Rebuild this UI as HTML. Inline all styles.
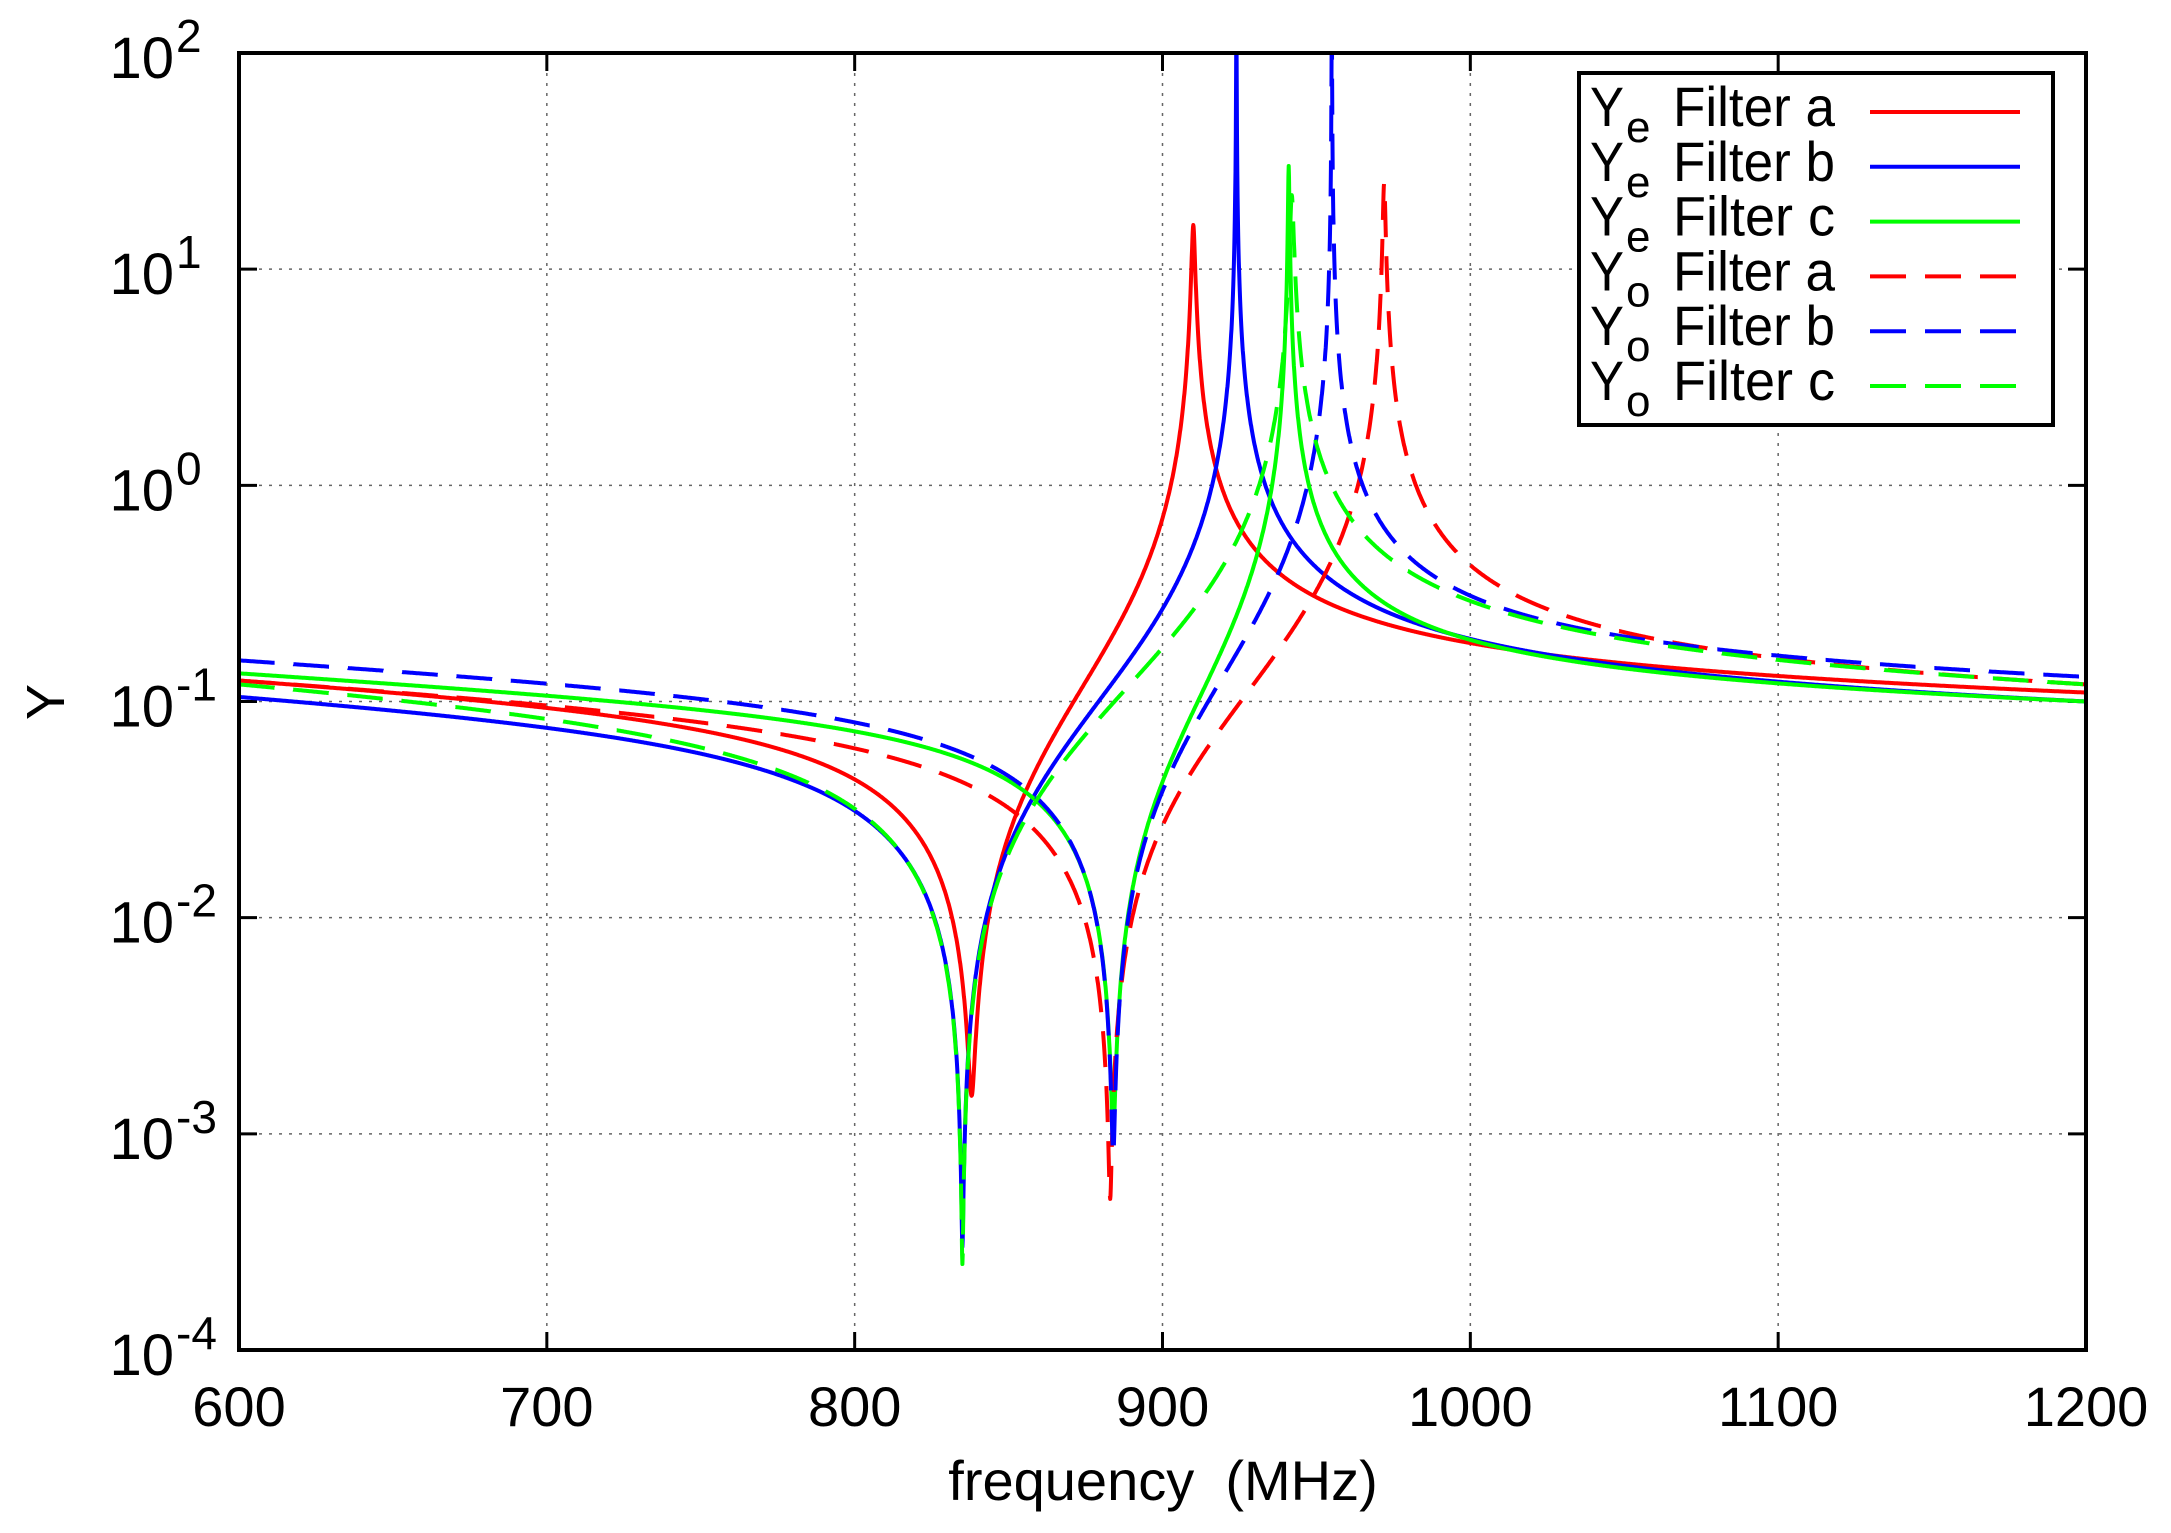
<!DOCTYPE html>
<html><head><meta charset="utf-8"><style>html,body{margin:0;padding:0;background:#fff}svg{display:block}</style></head>
<body>
<svg id="s" width="2171" height="1533" viewBox="0 0 2171 1533" xmlns="http://www.w3.org/2000/svg" font-family="Liberation Sans, Arial, sans-serif">
<defs><clipPath id="c"><rect x="239" y="53" width="1847" height="1297"/></clipPath></defs>
<g id="grid" stroke="#666" stroke-width="1.5" stroke-dasharray="3,7"></g>
<g id="ticks" stroke="#000" stroke-width="3"></g>
<g id="labels" fill="#000"></g>
<g id="curves" clip-path="url(#c)" fill="none" stroke-width="4" stroke-linejoin="round"></g>
<rect x="239" y="53" width="1847" height="1297" fill="none" stroke="#000" stroke-width="4"/>
<rect x="1579" y="73" width="474" height="352" fill="#fff" stroke="#000" stroke-width="4"/>
<g id="legend"></g>
<text x="1163" y="1500" font-size="56" text-anchor="middle">frequency&#160;&#160;(MHz)</text>
<text x="0" y="0" font-size="54" text-anchor="middle" transform="translate(64,702) rotate(-90)">Y</text>
</svg>
<script>
var NS="http://www.w3.org/2000/svg";
function el(p,t,a,txt){var e=document.createElementNS(NS,t);for(var k in a)e.setAttribute(k,a[k]);if(txt!==undefined)e.textContent=txt;p.appendChild(e);return e;}
var L=239,R=2086,T=53,B=1350;
function X(f){return L+(f-600)/600*(R-L);}
function Y(v){return T+(2-Math.log10(v))*(B-T)/6;}
var grid=document.getElementById('grid'),ticks=document.getElementById('ticks'),lab=document.getElementById('labels');
for(var f=600;f<=1200;f+=100){var x=X(f);
 if(f>600&&f<1200) el(grid,'line',{x1:x,y1:T,x2:x,y2:B});
 el(ticks,'line',{x1:x,y1:B,x2:x,y2:B-18});el(ticks,'line',{x1:x,y1:T,x2:x,y2:T+18});
 var s=String(f);el(lab,'text',{x:x,y:1426,'font-size':56,'text-anchor':'middle'},s);}
for(var e=-4;e<=2;e++){var y=Y(Math.pow(10,e));
 if(e>-4&&e<2) el(grid,'line',{x1:L,y1:y,x2:R,y2:y});
 el(ticks,'line',{x1:L,y1:y,x2:L+18,y2:y});el(ticks,'line',{x1:R,y1:y,x2:R-18,y2:y});
 el(lab,'text',{x:174,y:y+25,'font-size':58,'text-anchor':'end'},'10');
 el(lab,'text',{x:176,y:y-1,'font-size':46},String(e));}
var C=[
 ['#f00',0,838,910,0.125,0.11,16,1.5e-3],
 ['#00f',0,835,924,0.105,0.10,200,3e-4],
 ['#0f0',0,884,941,0.135,0.10,30,1.0e-3],
 ['#f00',1,883,972,0.125,0.12,25,5e-4],
 ['#00f',1,884,955,0.155,0.13,200,8e-4],
 ['#0f0',1,835,942,0.12,0.12,22,2.5e-4]];
var cg=document.getElementById('curves');
C.forEach(function(c){var z=c[2],p=c[3];
 var r1=Math.abs(z-600)/Math.abs(p-600),r2=Math.abs(1200-z)/Math.abs(1200-p);
 var n=Math.log2((c[4]/c[5])*(r2/r1));var k=c[4]/(r1*Math.pow(1.5,n));
 var gp=Math.pow(900/p,n),gz=Math.pow(900/z,n);
 var dp=k*Math.abs(p-z)*gp/c[6],dz=c[7]*Math.abs(z-p)/(k*gz);
 var d='';for(var f=600;f<=1200.001;f+=0.1){var g=Math.pow(900/f,n);
  var v=k*g*Math.sqrt((f-z)*(f-z)+dz*dz)/Math.sqrt((f-p)*(f-p)+dp*dp);
  var yy=Y(v);if(yy<0)yy=0;d+=(d?'L':'M')+X(f).toFixed(1)+','+yy.toFixed(1);}
 var a={d:d,stroke:c[0]};if(c[1])a['stroke-dasharray']='36,19';el(cg,'path',a);});
var lg=document.getElementById('legend');
var rows=[['e','a'],['e','b'],['e','c'],['o','a'],['o','b'],['o','c']];
rows.forEach(function(r,i){var y=112+i*54.8;
 el(lg,'text',{x:1590,y:y+14,'font-size':56,textLength:34,lengthAdjust:'spacingAndGlyphs'},'Y');
 el(lg,'text',{x:1626,y:y+30,'font-size':44},r[0]);
 el(lg,'text',{x:1673,y:y+14,'font-size':56,textLength:162,lengthAdjust:'spacingAndGlyphs'},'Filter '+r[1]);
 var a={x1:1870,y1:y,x2:2020,y2:y,stroke:C[i][0],'stroke-width':4};if(C[i][1])a['stroke-dasharray']='36,19';el(lg,'line',a);});
</script>
</body></html>
